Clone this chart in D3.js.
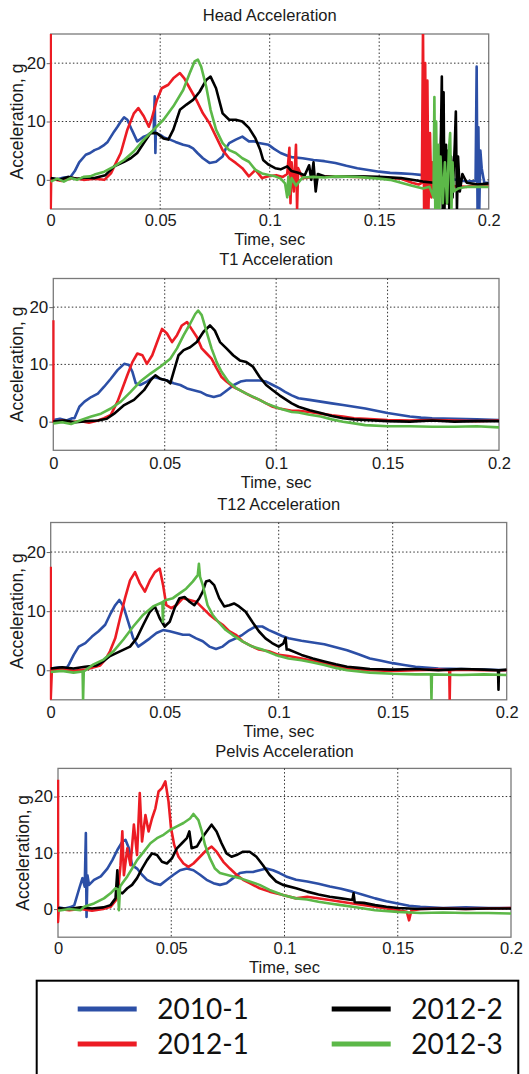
<!DOCTYPE html>
<html>
<head>
<meta charset="utf-8">
<script src="https://cdn.jsdelivr.net/npm/d3@7"></script>
<style>
  html, body { margin: 0; padding: 0; background: #fff; }
  svg { display: block; }
</style>
</head>
<body>
<script>
// ---------------- DATA ----------------
const SERIES_NAMES = ["2010-1", "2012-1", "2012-2", "2012-3"];
const PANEL_TITLES = ["Head Acceleration", "T1 Acceleration", "T12 Acceleration", "Pelvis Acceleration"];
const X_TICKS = [0, 0.05, 0.1, 0.15, 0.2];
const Y_TICKS = [0, 10, 20];
const X_LABEL = "Time, sec";
const Y_LABEL = "Acceleration, g";

// Head
const head_2010_1 = [[0,0.3],[0.003,0.1],[0.006,0.4],[0.009,0.5],[0.011,1.5],[0.013,3],[0.016,4.3],[0.018,4.6],[0.020,5.1],[0.022,5.4],[0.0245,6],[0.026,6.5],[0.0275,7.4],[0.029,8.3],[0.0305,9.1],[0.032,10],[0.0335,10.7],[0.035,10.3],[0.037,8.6],[0.0395,6.6],[0.041,7],[0.0425,7.4],[0.044,7.6],[0.0455,8],[0.047,8.2],[0.0475,14.3],[0.0478,4.6],[0.048,8],[0.050,7.7],[0.052,7.2],[0.0545,6.9],[0.057,6.5],[0.0605,6],[0.063,5.8],[0.065,5.4],[0.067,4.6],[0.0695,3.7],[0.0725,2.9],[0.0755,3.1],[0.0785,4],[0.080,5.4],[0.0815,6.3],[0.0845,6.9],[0.0875,7.4],[0.0905,6.6],[0.093,6.6],[0.095,6.3],[0.0995,6],[0.102,5.3],[0.105,4.6],[0.109,4],[0.11,3.9],[0.115,3.7],[0.12,3.4],[0.125,3.2],[0.13,2.9],[0.135,2.4],[0.14,2],[0.145,1.7],[0.15,1.4],[0.155,1.2],[0.16,1.1],[0.165,1],[0.17,0.8],[0.175,0.6],[0.18,0.3],[0.185,0],[0.19,-0.3],[0.194,-0.2],[0.1945,19.4],[0.1949,-5],[0.1953,9],[0.1957,-5],[0.1962,5],[0.1968,2],[0.1975,0.5],[0.198,-0.5],[0.2,-0.5]];
const head_2012_1 = [[0,25],[0,-5],[0.0002,0.2],[0.005,-0.2],[0.01,0.3],[0.015,0],[0.02,0.2],[0.0245,0],[0.0275,1.1],[0.0298,2.9],[0.032,4.6],[0.035,8.6],[0.038,11.4],[0.040,12.3],[0.0425,10.9],[0.0448,9.1],[0.046,10.3],[0.0485,13.7],[0.0507,15.7],[0.0537,16.3],[0.056,17.4],[0.059,18.3],[0.061,17.4],[0.0635,15.7],[0.0665,13.7],[0.0695,11.4],[0.0725,9.7],[0.0755,7.4],[0.0785,5.1],[0.0815,3.7],[0.0845,2.9],[0.0875,2],[0.0905,0.6],[0.0935,1.7],[0.0965,0.3],[0.0995,0.6],[0.103,0.8],[0.106,0.5],[0.108,1],[0.109,5.5],[0.1095,-4],[0.110,3],[0.111,-2],[0.112,6],[0.1125,-5],[0.113,2],[0.115,0.3],[0.12,0.5],[0.13,0.6],[0.14,0.5],[0.15,0.4],[0.16,0.2],[0.165,-0.5],[0.168,-0.8],[0.1695,-0.5],[0.1700,26],[0.1705,-5],[0.171,20],[0.1715,-5],[0.172,17],[0.1725,-5],[0.1732,8],[0.1738,-3],[0.1745,3],[0.175,-1.5],[0.18,-1],[0.19,-1.2],[0.195,-0.8],[0.2,-1]];
const head_2012_2 = [[0,0.3],[0.004,0],[0.008,0.5],[0.012,0.2],[0.016,0.4],[0.02,0.3],[0.025,0.8],[0.029,2.3],[0.0335,3.1],[0.0365,3.7],[0.0395,4.6],[0.0425,6.3],[0.0455,8],[0.0485,8],[0.0515,7.1],[0.0537,6.9],[0.056,8.6],[0.059,12],[0.062,12.9],[0.065,13.7],[0.068,15.1],[0.071,17.1],[0.073,17.7],[0.0755,15.7],[0.0785,11.4],[0.0815,10.3],[0.0845,10.3],[0.0875,10],[0.0905,8.9],[0.0935,7.1],[0.0957,5.1],[0.097,3.4],[0.0995,2.6],[0.1025,2],[0.105,1.8],[0.108,2.3],[0.11,1.5],[0.113,1.2],[0.116,0.8],[0.118,2.5],[0.119,0],[0.12,3],[0.121,-2],[0.122,1],[0.125,0.6],[0.13,0.5],[0.14,0.6],[0.15,0.5],[0.16,0.3],[0.165,0],[0.17,-0.3],[0.175,-0.5],[0.1775,-2],[0.1782,8],[0.1786,17.7],[0.179,-5],[0.1794,15],[0.1798,-5],[0.1805,6],[0.181,-4],[0.1816,5],[0.182,-5],[0.1828,4],[0.1835,-3],[0.1845,6],[0.185,11.7],[0.1855,-5],[0.186,4],[0.1868,-2],[0.188,1],[0.19,-0.5],[0.195,-0.8],[0.2,-0.6]];
const head_2012_3 = [[0,-0.3],[0.003,0.2],[0.006,-0.3],[0.009,0.3],[0.012,0],[0.015,0.5],[0.018,0.6],[0.020,0.9],[0.0245,1.4],[0.029,2.3],[0.0335,3.4],[0.038,4.9],[0.0425,6.9],[0.047,8.6],[0.0515,10.3],[0.056,12.6],[0.0605,15.4],[0.0635,18.3],[0.0657,20.3],[0.0672,20.6],[0.0687,19.4],[0.071,16],[0.073,12],[0.0755,8.6],[0.0785,6.3],[0.0815,5.1],[0.0845,4.6],[0.0875,3.7],[0.0905,3.1],[0.0935,1.7],[0.0965,1.1],[0.1,0.8],[0.1025,0.6],[0.105,0.2],[0.107,-0.6],[0.108,-3],[0.1085,0.5],[0.109,-2.5],[0.110,0.3],[0.112,-1],[0.115,0.4],[0.12,0.5],[0.125,0.4],[0.13,0.6],[0.14,0.5],[0.15,0.2],[0.155,0],[0.16,-0.5],[0.165,-1],[0.17,-1.5],[0.173,-1.2],[0.1748,-3],[0.1752,14.2],[0.1756,-5],[0.176,10],[0.1765,-5],[0.177,6],[0.1775,-5],[0.178,4],[0.179,-4],[0.180,3],[0.181,-4],[0.1818,5],[0.1824,8],[0.183,-5],[0.1835,3],[0.184,-2],[0.186,-1.5],[0.19,-1.2],[0.2,-1.2]];

// T1
const t1_2010_1 = [[0,0.3],[0.003,0.5],[0.006,0.2],[0.0085,0.6],[0.0095,0.6],[0.0117,2.6],[0.014,3.5],[0.017,4.3],[0.02,4.9],[0.0228,6.1],[0.0258,7.5],[0.0288,9],[0.0318,10.1],[0.034,9.9],[0.0355,8.7],[0.037,6.7],[0.039,6.4],[0.042,7],[0.045,7.8],[0.048,7.5],[0.051,7.2],[0.054,6.7],[0.057,6.4],[0.06,5.8],[0.063,5.5],[0.066,5.2],[0.069,4.6],[0.072,4.3],[0.075,4.6],[0.078,5.5],[0.081,6.4],[0.084,7],[0.0866,7.2],[0.0896,7.2],[0.0926,7.2],[0.0955,7],[0.0985,6.4],[0.1015,5.8],[0.104,5.2],[0.107,4.6],[0.11,4.1],[0.115,3.8],[0.12,3.5],[0.125,3.2],[0.13,2.9],[0.135,2.6],[0.14,2.3],[0.145,1.9],[0.15,1.5],[0.155,1.2],[0.16,0.9],[0.165,0.7],[0.17,0.6],[0.18,0.5],[0.19,0.4],[0.2,0.3]];
const t1_2012_1 = [[0,17.7],[0,0],[0.004,0.2],[0.008,-0.1],[0.012,0.1],[0.016,-0.2],[0.02,0.2],[0.0228,0.6],[0.0258,1.2],[0.0288,3.5],[0.031,5.8],[0.0332,8.1],[0.0355,10.4],[0.0377,11.9],[0.04,11.6],[0.042,10.1],[0.0444,11.6],[0.0466,13.9],[0.0488,16.2],[0.051,15.4],[0.0533,13.9],[0.0555,15.1],[0.0577,16.8],[0.06,17.4],[0.062,16.2],[0.0644,14.8],[0.0666,12.8],[0.0688,11.9],[0.071,11],[0.0733,9.3],[0.0755,7.8],[0.0777,7],[0.0807,6.1],[0.0837,5.5],[0.0866,4.9],[0.0896,4.3],[0.0926,3.8],[0.0955,3.2],[0.0985,2.6],[0.1015,2.3],[0.107,1.9],[0.11,1.9],[0.115,1.7],[0.12,1.4],[0.125,1.1],[0.13,0.9],[0.135,0.6],[0.14,0.5],[0.15,0.3],[0.16,0.2],[0.17,0.3],[0.18,0.2],[0.19,0.1],[0.2,0.2]];
const t1_2012_2 = [[0,0],[0.005,0.2],[0.01,-0.1],[0.015,0.1],[0.02,0.2],[0.024,0.5],[0.0273,1.4],[0.0318,2.9],[0.0362,3.8],[0.0407,5.5],[0.0436,7.2],[0.0458,8.1],[0.048,7.5],[0.051,7.2],[0.0525,6.7],[0.054,8.7],[0.0562,11.6],[0.0585,12.5],[0.0614,13],[0.0644,13.9],[0.0674,15.7],[0.0703,16.8],[0.0725,15.9],[0.0748,13.9],[0.0777,12.8],[0.0807,11.6],[0.0837,10.7],[0.0866,10.4],[0.0896,9.6],[0.0926,7.8],[0.0955,6.4],[0.0985,5.5],[0.1015,4.6],[0.107,3.2],[0.11,2.6],[0.115,2],[0.12,1.5],[0.125,1],[0.13,0.6],[0.135,0.4],[0.14,0.3],[0.15,0.1],[0.16,0],[0.17,0.2],[0.18,0],[0.19,0.1],[0.2,0.1]];
const t1_2012_3 = [[0,-0.3],[0.004,-0.1],[0.008,-0.4],[0.0125,0.3],[0.017,0.9],[0.0214,1.4],[0.0258,2.3],[0.0303,3.5],[0.0347,5.2],[0.039,7],[0.0436,8.4],[0.048,9.6],[0.0525,11],[0.0555,12.8],[0.0585,15.1],[0.0614,17.1],[0.0637,18.8],[0.065,19.4],[0.0666,18.6],[0.0688,15.7],[0.071,12.8],[0.0733,10.4],[0.0755,8.7],[0.0785,7],[0.0822,5.8],[0.0866,4.9],[0.091,4.1],[0.0955,3.2],[0.1015,2.3],[0.107,1.7],[0.11,1.6],[0.115,1.2],[0.12,0.9],[0.125,0.4],[0.13,0],[0.135,-0.3],[0.14,-0.6],[0.15,-0.8],[0.16,-0.8],[0.17,-0.9],[0.18,-0.9],[0.19,-0.8],[0.2,-1]];

// T12
const t12_2010_1 = [[0,0.3],[0.004,0.5],[0.007,0.4],[0.008,1],[0.0101,2.6],[0.0123,4],[0.0152,4.6],[0.0181,5.7],[0.021,6.6],[0.0239,7.7],[0.026,9.4],[0.0283,11],[0.0301,11.9],[0.0319,10.8],[0.034,8.2],[0.0362,5.4],[0.0384,4],[0.0406,4.6],[0.0435,5.4],[0.0464,6.3],[0.0493,6.8],[0.0522,6.6],[0.0551,6.3],[0.058,6],[0.0609,6],[0.0638,5.4],[0.0667,4.9],[0.0696,4],[0.0725,3.6],[0.0754,4],[0.0783,4.9],[0.0812,5.4],[0.0841,6],[0.087,6.8],[0.0899,7.4],[0.0928,7.4],[0.0957,6.8],[0.0986,6.3],[0.1015,5.8],[0.1043,5.4],[0.11,5],[0.115,4.7],[0.12,4.4],[0.125,3.9],[0.13,3.4],[0.135,2.7],[0.14,2],[0.145,1.6],[0.15,1.2],[0.155,0.9],[0.16,0.6],[0.17,0.3],[0.18,0.2],[0.19,0.1],[0.2,0]];
const t12_2012_1 = [[0,17.5],[0,-5],[0.0005,0],[0.005,0.2],[0.01,-0.1],[0.015,0.1],[0.0217,0.8],[0.0239,1.8],[0.026,3.2],[0.0283,5.4],[0.0304,8.8],[0.0326,12.2],[0.0348,15.2],[0.037,16.6],[0.0391,14.7],[0.0413,13.3],[0.0435,15.2],[0.0457,16.6],[0.0478,17.2],[0.0493,14.4],[0.0507,11],[0.0529,10.5],[0.0551,11],[0.058,12.2],[0.0609,11.9],[0.0638,11.6],[0.0667,10.5],[0.0696,9.4],[0.0725,8.5],[0.0754,7.7],[0.0783,6.6],[0.0812,6],[0.0841,4.9],[0.087,4.3],[0.0913,3.5],[0.0957,3.2],[0.1,2.6],[0.1043,2.4],[0.11,2],[0.115,1.6],[0.12,1.2],[0.125,0.7],[0.13,0.3],[0.14,0],[0.15,-0.1],[0.16,0],[0.17,0.1],[0.1748,0],[0.175,-5],[0.1752,0],[0.18,0.1],[0.19,0],[0.2,0]];
const t12_2012_2 = [[0,0.3],[0.005,0.5],[0.01,0.3],[0.015,0.6],[0.02,0.8],[0.023,1.5],[0.026,2.4],[0.0304,3.2],[0.0348,4],[0.0377,5.4],[0.0406,7.7],[0.0435,9.9],[0.0457,10.8],[0.0478,8.8],[0.05,7.4],[0.0522,8.2],[0.0543,10.5],[0.0565,12.2],[0.0587,12.4],[0.0609,11.6],[0.063,11],[0.0652,12.2],[0.0667,13.3],[0.0681,15],[0.0696,15.2],[0.0717,14.4],[0.0739,12.2],[0.0761,10.8],[0.0783,11],[0.0804,11.3],[0.0826,10.8],[0.0855,9.9],[0.0884,8.2],[0.0913,6.6],[0.0942,5.4],[0.0971,4.6],[0.1,4],[0.102,4.5],[0.103,5.5],[0.1035,3.5],[0.1043,3.5],[0.11,2.6],[0.115,2],[0.12,1.5],[0.125,1],[0.13,0.6],[0.135,0.4],[0.14,0.2],[0.15,0.1],[0.16,0.2],[0.17,0],[0.18,0.2],[0.19,0.1],[0.1962,0],[0.1964,-3.3],[0.1966,0],[0.2,0.1]];
const t12_2012_3 = [[0,-0.3],[0.005,-0.1],[0.01,-0.4],[0.014,-0.2],[0.0142,-5],[0.0145,-0.2],[0.0188,1],[0.0232,1.8],[0.0275,3.2],[0.0319,5.2],[0.0362,7.4],[0.0406,9.4],[0.0449,10.8],[0.0478,11.3],[0.049,11.5],[0.0492,8.2],[0.0495,11.7],[0.0507,11.9],[0.0536,12.2],[0.0565,13],[0.0594,13.8],[0.0623,15],[0.0645,16.1],[0.065,18],[0.0655,15.8],[0.0667,14.4],[0.0688,11],[0.071,9.4],[0.0739,8],[0.0768,6.8],[0.0797,6],[0.0841,4.9],[0.0884,4],[0.0928,3.5],[0.0986,2.6],[0.1043,2],[0.11,1.7],[0.115,1.3],[0.12,0.9],[0.125,0.4],[0.13,0],[0.14,-0.4],[0.15,-0.6],[0.16,-0.7],[0.1668,-0.7],[0.167,-5],[0.1672,-0.7],[0.18,-0.8],[0.19,-0.7],[0.2,-0.8]];

// Pelvis
const pelvis_2010_1 = [[0,0.3],[0.003,0.1],[0.006,0.4],[0.0072,0.7],[0.0094,3.7],[0.0108,5.5],[0.0118,4],[0.0123,13.5],[0.0126,-1.4],[0.013,6],[0.0137,4.3],[0.0159,5.2],[0.0189,5.8],[0.0218,7.2],[0.024,8.7],[0.0262,10.5],[0.0284,12],[0.0298,12.3],[0.0313,10.8],[0.0327,7.8],[0.0349,7.2],[0.0371,6.1],[0.0393,5.2],[0.0423,4.6],[0.0452,4.3],[0.0481,5.2],[0.051,6.1],[0.0539,6.9],[0.0569,7.2],[0.0598,6.9],[0.0627,6.1],[0.0656,5.2],[0.0686,4.6],[0.0715,4.3],[0.0744,4.6],[0.0773,5.5],[0.0803,6.4],[0.0832,6.6],[0.0861,6.6],[0.089,6.9],[0.092,7.2],[0.0949,6.9],[0.0978,6.4],[0.1007,5.8],[0.1051,5.2],[0.11,4.9],[0.115,4.5],[0.12,4],[0.125,3.6],[0.13,3.1],[0.135,2.5],[0.14,1.9],[0.145,1.4],[0.15,1],[0.155,0.6],[0.16,0.4],[0.17,0.2],[0.18,0.3],[0.19,0.2],[0.2,0.2]];
const pelvis_2012_1 = [[0,23],[0,-2.3],[0.0003,0],[0.005,-0.2],[0.01,0],[0.015,-0.3],[0.02,0],[0.0232,0.4],[0.0262,1.9],[0.0276,7.8],[0.0284,13.8],[0.0291,6],[0.0306,10.8],[0.032,7.8],[0.0335,15],[0.0349,9.6],[0.0361,20.6],[0.0371,12],[0.0386,16.7],[0.04,13.8],[0.0415,16.1],[0.043,17.9],[0.0444,20.9],[0.0459,21.5],[0.0474,22.7],[0.0488,19.1],[0.0499,14.4],[0.0513,11.4],[0.0532,9.3],[0.0554,8.1],[0.0576,7.5],[0.0598,8.1],[0.0627,9.3],[0.0656,10.5],[0.0678,11.1],[0.07,10.2],[0.073,8.4],[0.0759,7.2],[0.0788,6.1],[0.0817,5.2],[0.0846,4.6],[0.089,3.7],[0.0934,3.1],[0.0993,2.5],[0.1051,1.9],[0.11,2.2],[0.12,1.6],[0.13,1],[0.14,0.4],[0.15,-0.2],[0.154,-0.5],[0.155,-2],[0.156,-0.3],[0.16,0],[0.17,0.1],[0.18,0],[0.19,0.1],[0.2,0.2]];
const pelvis_2012_2 = [[0,0.2],[0.005,0],[0.01,0.3],[0.015,0.1],[0.02,0.3],[0.0232,0.7],[0.0254,1.9],[0.0262,6.9],[0.0266,3],[0.0269,3.1],[0.0284,2.8],[0.0306,3.7],[0.0327,4.3],[0.0349,5.5],[0.0371,7.2],[0.0393,8.7],[0.0415,9.9],[0.0437,9.6],[0.0459,8.4],[0.0481,8.1],[0.0503,9],[0.0525,10.8],[0.0547,11.7],[0.0569,12.6],[0.058,13.8],[0.059,10.8],[0.0613,11.1],[0.0635,12.6],[0.0656,13.8],[0.0678,15],[0.07,13.8],[0.0722,11.7],[0.0744,9.9],[0.0766,9.3],[0.0788,9.6],[0.0817,10.2],[0.0846,10.2],[0.0876,9.3],[0.0905,7.8],[0.0934,6.1],[0.0963,4.9],[0.0993,4.3],[0.1051,3.7],[0.11,3.1],[0.115,2.6],[0.12,2.2],[0.125,1.9],[0.13,1.6],[0.1305,2.8],[0.131,1.2],[0.135,1.1],[0.14,0.7],[0.145,0.4],[0.15,0.2],[0.16,0],[0.17,0.1],[0.18,0],[0.19,0.1],[0.2,0.1]];
const pelvis_2012_3 = [[0,-0.3],[0.005,0],[0.01,-0.2],[0.0115,0.4],[0.0159,1],[0.0203,1.9],[0.0232,2.8],[0.0254,3.7],[0.0265,3.5],[0.0269,-0.2],[0.0274,4],[0.0284,4.6],[0.0306,5.8],[0.0327,7.2],[0.0349,8.7],[0.0379,10.2],[0.0408,11.7],[0.0437,12.6],[0.0466,13.2],[0.0496,14.1],[0.0525,14.7],[0.0554,15.3],[0.0583,16.1],[0.0598,16.9],[0.062,15.8],[0.0635,13.8],[0.0649,11.4],[0.0671,9],[0.0693,7.2],[0.0715,6.4],[0.0744,6.1],[0.0773,5.8],[0.0803,5.5],[0.0846,4.9],[0.089,4.3],[0.0934,3.4],[0.0993,2.5],[0.1051,1.9],[0.11,1.7],[0.115,1.3],[0.12,1],[0.125,0.7],[0.13,0.4],[0.135,0.1],[0.14,-0.2],[0.15,-0.5],[0.16,-0.7],[0.17,-0.6],[0.18,-0.7],[0.19,-0.7],[0.2,-0.8]];

// ---------------- STYLE / LAYOUT ----------------
const COLORS = { "2010-1": "#2c4fa6", "2012-1": "#ec1c24", "2012-2": "#000000", "2012-3": "#5cb848" };
const DRAW_ORDER = ["2010-1", "2012-1", "2012-2", "2012-3"];

const panels = [
  { title: PANEL_TITLES[0], data: { "2010-1": head_2010_1, "2012-1": head_2012_1, "2012-2": head_2012_2, "2012-3": head_2012_3 },
    x0: 50.7, x1: 488.7, y0: 34, y1: 209, titleY: 20.5, tickY: 226, xlabY: 244.5, ylabX: 22.5 },
  { title: PANEL_TITLES[1], data: { "2010-1": t1_2010_1, "2012-1": t1_2012_1, "2012-2": t1_2012_2, "2012-3": t1_2012_3 },
    x0: 53.3, x1: 499, y0: 278.5, y1: 450.3, titleY: 265, tickY: 469, xlabY: 487.5, ylabX: 22.5 },
  { title: PANEL_TITLES[2], data: { "2010-1": t12_2010_1, "2012-1": t12_2012_1, "2012-2": t12_2012_2, "2012-3": t12_2012_3 },
    x0: 50.7, x1: 506.7, y0: 522.5, y1: 699.8, titleY: 509.5, tickY: 717.5, xlabY: 737, ylabX: 22.5 },
  { title: PANEL_TITLES[3], data: { "2010-1": pelvis_2010_1, "2012-1": pelvis_2012_1, "2012-2": pelvis_2012_2, "2012-3": pelvis_2012_3 },
    x0: 58, x1: 511, y0: 768.4, y1: 937.2, titleY: 756.5, tickY: 954, xlabY: 972.5, ylabX: 29 }
];

const FONT = "'Liberation Sans', Arial, Helvetica, sans-serif";

const svg = d3.select("body").append("svg")
  .attr("width", 529).attr("height", 1074)
  .attr("viewBox", "0 0 529 1074");

panels.forEach((p, i) => {
  const x = d3.scaleLinear().domain([0, 0.2]).range([p.x0, p.x1]);
  const y = d3.scaleLinear().domain([-5, 25]).range([p.y1, p.y0]);
  const g = svg.append("g");

  // clip (slightly larger so that the t=0 red trace overlays the frame)
  const clipId = "clip" + i;
  svg.append("clipPath").attr("id", clipId)
    .append("rect").attr("x", p.x0 - 1).attr("y", p.y0)
    .attr("width", p.x1 - p.x0 + 1).attr("height", p.y1 - p.y0);

  // frame (under the traces)
  g.append("rect").attr("x", p.x0).attr("y", p.y0)
    .attr("width", p.x1 - p.x0).attr("height", p.y1 - p.y0)
    .attr("fill", "#fff").attr("stroke", "#7a7a7a").attr("stroke-width", 1.3);

  // grid
  g.append("g").selectAll("line").data(X_TICKS.slice(1, -1)).join("line")
    .attr("x1", d => x(d)).attr("x2", d => x(d))
    .attr("y1", p.y0).attr("y2", p.y1)
    .attr("stroke", "#333").attr("stroke-width", 1).attr("stroke-dasharray", "1.5,2.2");
  g.append("g").selectAll("line").data(Y_TICKS).join("line")
    .attr("x1", p.x0).attr("x2", p.x1)
    .attr("y1", d => y(d)).attr("y2", d => y(d))
    .attr("stroke", "#333").attr("stroke-width", 1).attr("stroke-dasharray", "1.5,2.2");

  // axes (labels)
  const xAxis = d3.axisBottom(x).tickValues(X_TICKS).tickSize(0).tickPadding(0)
    .tickFormat(d => String(d));
  const gx = g.append("g").attr("transform", `translate(0,${p.tickY})`).call(xAxis);
  gx.select(".domain").remove();
  gx.selectAll("text").attr("dy", null).attr("y", 0)
    .attr("font-family", FONT).attr("font-size", 16.5).attr("fill", "#1a1a1a");

  const yAxis = d3.axisLeft(y).tickValues(Y_TICKS).tickSize(4).tickPadding(1);
  const gy = g.append("g").attr("transform", `translate(${p.x0},0)`).call(yAxis);
  gy.select(".domain").remove();
  gy.selectAll("line").attr("stroke", "#666");
  gy.selectAll("text").attr("font-family", FONT).attr("font-size", 17).attr("fill", "#1a1a1a");

  // series
  const line = d3.line().x(d => x(d[0])).y(d => y(d[1]));
  const lg = g.append("g").attr("clip-path", `url(#${clipId})`);
  DRAW_ORDER.forEach(name => {
    lg.append("path").datum(p.data[name])
      .attr("d", line)
      .attr("fill", "none")
      .attr("stroke", COLORS[name])
      .attr("stroke-width", 2.6)
      .attr("stroke-linejoin", "round");
  });

  // title
  g.append("text").attr("x", (p.x0 + p.x1) / 2).attr("y", p.titleY)
    .attr("text-anchor", "middle").attr("font-family", FONT).attr("font-size", 16.5)
    .attr("fill", "#1a1a1a").text(p.title);

  // x label
  g.append("text").attr("x", (p.x0 + p.x1) / 2).attr("y", p.xlabY)
    .attr("text-anchor", "middle").attr("font-family", FONT).attr("font-size", 16.5)
    .attr("fill", "#1a1a1a").text(X_LABEL);

  // y label
  g.append("text")
    .attr("transform", `translate(${p.ylabX},${(p.y0 + p.y1) / 2}) rotate(-90)`)
    .attr("text-anchor", "middle").attr("font-family", FONT).attr("font-size", 17.5)
    .attr("fill", "#1a1a1a").text(Y_LABEL);
});

// ---------------- LEGEND ----------------
const legend = svg.append("g");
legend.append("rect").attr("x", 36.7).attr("y", 980.7).attr("width", 481.6).attr("height", 200)
  .attr("fill", "#fff").attr("stroke", "#000").attr("stroke-width", 2);

const legendItems = [
  { name: SERIES_NAMES[0], col: 0, row: 0 },
  { name: SERIES_NAMES[1], col: 0, row: 1 },
  { name: SERIES_NAMES[2], col: 1, row: 0 },
  { name: SERIES_NAMES[3], col: 1, row: 1 }
];
const colX = [77.7, 331.7];
const rowY = [1009, 1044];
legendItems.forEach(it => {
  const lx = colX[it.col], ly = rowY[it.row];
  legend.append("line").attr("x1", lx).attr("x2", lx + 59).attr("y1", ly).attr("y2", ly)
    .attr("stroke", COLORS[it.name]).attr("stroke-width", 5);
  legend.append("text").attr("x", lx + 79.5).attr("y", ly + 10)
    .attr("font-family", "Lato, 'Open Sans', sans-serif").attr("font-size", 28)
    .attr("fill", "#111").text(it.name);
});
</script>
</body>
</html>
